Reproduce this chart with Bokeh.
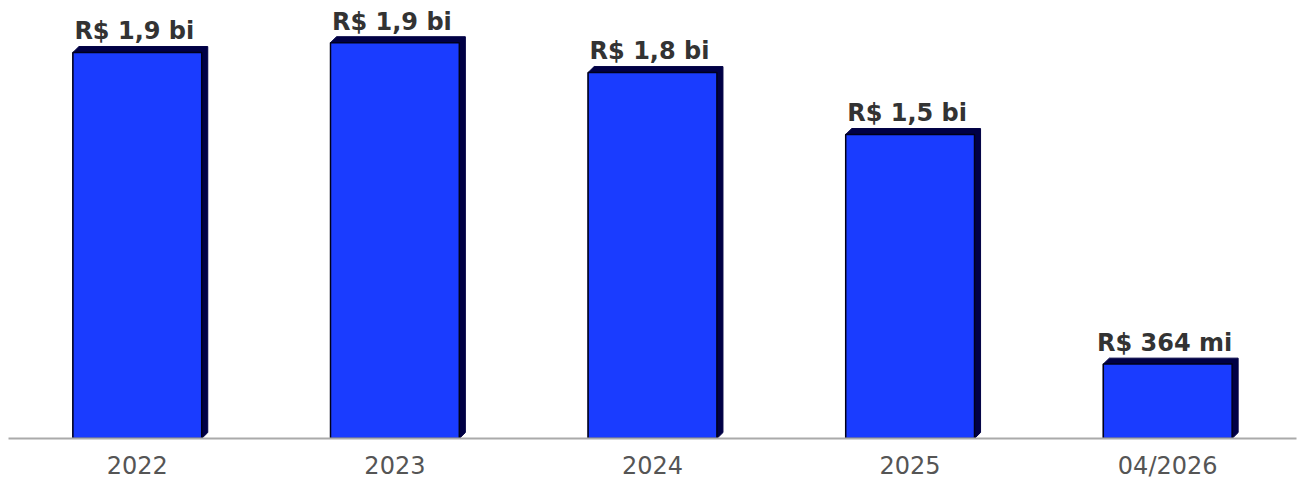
from bokeh.plotting import figure
from bokeh.models import Range1d, FixedTicker, ColumnDataSource
from bokeh.embed import file_html
from bokeh.resources import INLINE
from bokeh.core.properties import value

# Data (values in R$ millions)
categories = ["2022", "2023", "2024", "2025", "04/2026"]
values = [1888, 1936, 1790, 1487, 364]
labels = ["R$ 1,9 bi", "R$ 1,9 bi", "R$ 1,8 bi", "R$ 1,5 bi", "R$ 364 mi"]

# style / geometry
Y_MAX = 2103
BAR_W = 0.5
DX = 0.0235  # depth offset in x units
DY = 29.0    # depth offset in y units
FRONT = "#1a3cff"
DEPTH = "#000045"

xs = list(range(len(categories)))

p = figure(width=1304, height=484, output_backend="svg", toolbar_location=None,
           x_range=Range1d(-0.5, len(categories) - 0.5), y_range=Range1d(0, Y_MAX),
           min_border_left=8, min_border_right=8, min_border_top=8, min_border_bottom=46)
p.outline_line_color = None
p.xgrid.grid_line_color = None
p.ygrid.grid_line_color = None
p.yaxis.visible = False

# depth (3D side/top) polygons derived from data
h = BAR_W / 2
px, py = [], []
for x, v in zip(xs, values):
    px.append([x - h, x - h + DX, x + h + DX, x + h + DX, x + h, x - h])
    py.append([v, v + DY, v + DY, DY, 0, 0])
p.patches(px, py, fill_color=DEPTH, line_color=DEPTH, line_width=1)

src = ColumnDataSource(dict(x=xs, top=values, label=labels))
p.vbar(x="x", top="top", width=BAR_W, source=src, fill_color=FRONT,
       line_color="#00001a", line_width=1.5)

p.text(x="x", y="top", text="label", source=src, text_align="center",
       text_baseline="alphabetic", y_offset=-21, x_offset=-3,
       text_font=value("DejaVu Sans"), text_font_style="bold",
       text_font_size="24px", text_color="#333333")

ax = p.xaxis[0]
ax.ticker = FixedTicker(ticks=xs)
ax.major_label_overrides = {i: c for i, c in enumerate(categories)}
ax.major_tick_line_color = None
ax.minor_tick_line_color = None
ax.axis_line_color = "#aaaaaa"
ax.axis_line_width = 2
ax.major_label_text_font = "DejaVu Sans"
ax.major_label_text_font_size = "24px"
ax.major_label_text_color = "#555555"
ax.major_label_standoff = 7

open("out.html", "w").write(file_html(p, INLINE))
